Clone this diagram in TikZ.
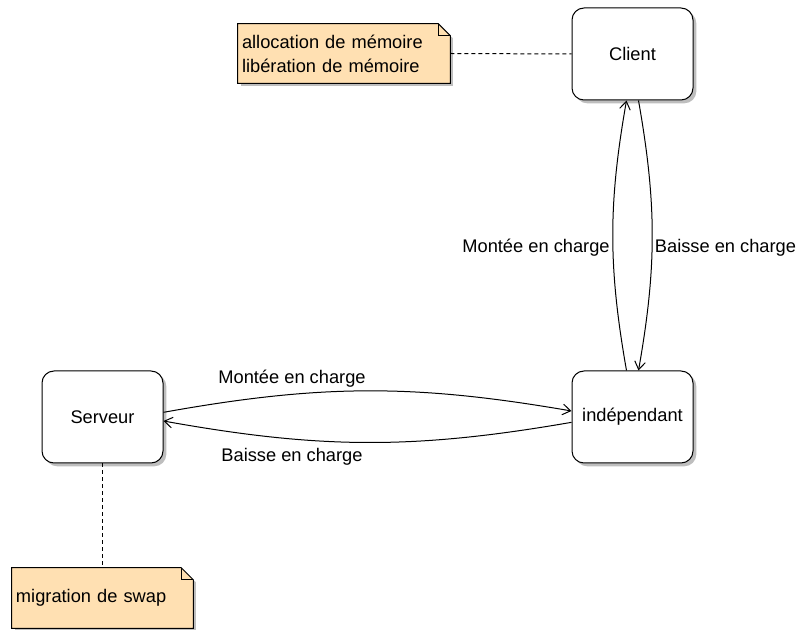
\documentclass[tikz,border=0pt]{standalone}
\usepackage{fontspec}
\setmainfont{Liberation Sans}
\usetikzlibrary{arrows.meta,shadows}
\definecolor{notefill}{RGB}{255,224,178}
\definecolor{shadowgray}{RGB}{190,190,190}
\tikzset{
  state/.style={draw, line width=0.75pt, rounded corners=9pt, fill=white,
    minimum width=90.75pt, minimum height=69pt,
    drop shadow={shadow xshift=2.5pt, shadow yshift=-2.5pt, fill=shadowgray, opacity=1}},
  notebox/.style={fill=notefill, align=left, inner xsep=3pt,
    drop shadow={shadow xshift=2.5pt, shadow yshift=-2.5pt, fill=shadowgray, opacity=1}},
  trans/.style={line width=0.75pt, -{Straight Barb[length=6pt,width=8pt]}},
  anchorline/.style={line width=0.75pt, dash pattern=on 3pt off 2.25pt},
}
\begin{document}
\begin{tikzpicture}[x=0.75pt,y=0.75pt,yscale=-1,xscale=1,
  font=\fontsize{13.7pt}{18pt}\selectfont]
\useasboundingbox (0,0) rectangle (800,630);

% States
\node [state] (client) at (632.5,54) {Client};
\node [state] (indep) at (632.5,417) {indépendant};
\node [state] (serveur) at (102.5,417) {Serveur};

% Notes
\node [notebox, text width=153pt, minimum height=44.25pt] (noteMem) at (344,53.5)
  {allocation de mémoire\\libération de mémoire};
\node [notebox, text width=129.75pt, minimum height=45pt] (noteSwap) at (102.5,598)
  {migration de swap};
% folded corners
\foreach \n in {noteMem,noteSwap}{
  \fill [white] ([xshift=-9pt]\n.north east) -- ([xshift=3.5pt]\n.north east)
    -- ([xshift=3.5pt,yshift=12pt]\n.north east) -- ([yshift=9pt]\n.north east) -- cycle;
  \draw [line width=0.75pt] (\n.north west) -- ([xshift=-9pt]\n.north east)
    -- ([yshift=9pt]\n.north east) -- (\n.south east) -- (\n.south west) -- cycle;
  \draw [line width=0.75pt] ([xshift=-9pt]\n.north east) -- ([xshift=-9pt,yshift=9pt]\n.north east)
    -- ([yshift=9pt]\n.north east);
}

% Note links
\draw [anchorline] (noteMem.east) -- (client.west);
\draw [anchorline] (serveur.south) -- (noteSwap.north);

% Transitions
\draw [trans] ([xshift=-4.5pt]indep.north) to [bend right=10] ([xshift=-4.5pt]client.south);
\draw [trans] ([xshift=4.5pt]client.south) to [bend right=10] ([xshift=4.5pt]indep.north);
\draw [trans] ([yshift=-3.5pt]serveur.east) to [bend right=10] ([yshift=-4.5pt]indep.west);
\draw [trans] ([yshift=4pt]indep.west) to [bend right=10] ([yshift=3pt]serveur.east);

% Text Node
\node (lblUpV) at (536,248) {Montée en charge};
% Text Node
\node (lblDownV) at (725.5,248) {Baisse en charge};
% Text Node
\node (lblUpH) at (292,379) {Montée en charge};
% Text Node
\node (lblDownH) at (292,457) {Baisse en charge};

\end{tikzpicture}
\end{document}
